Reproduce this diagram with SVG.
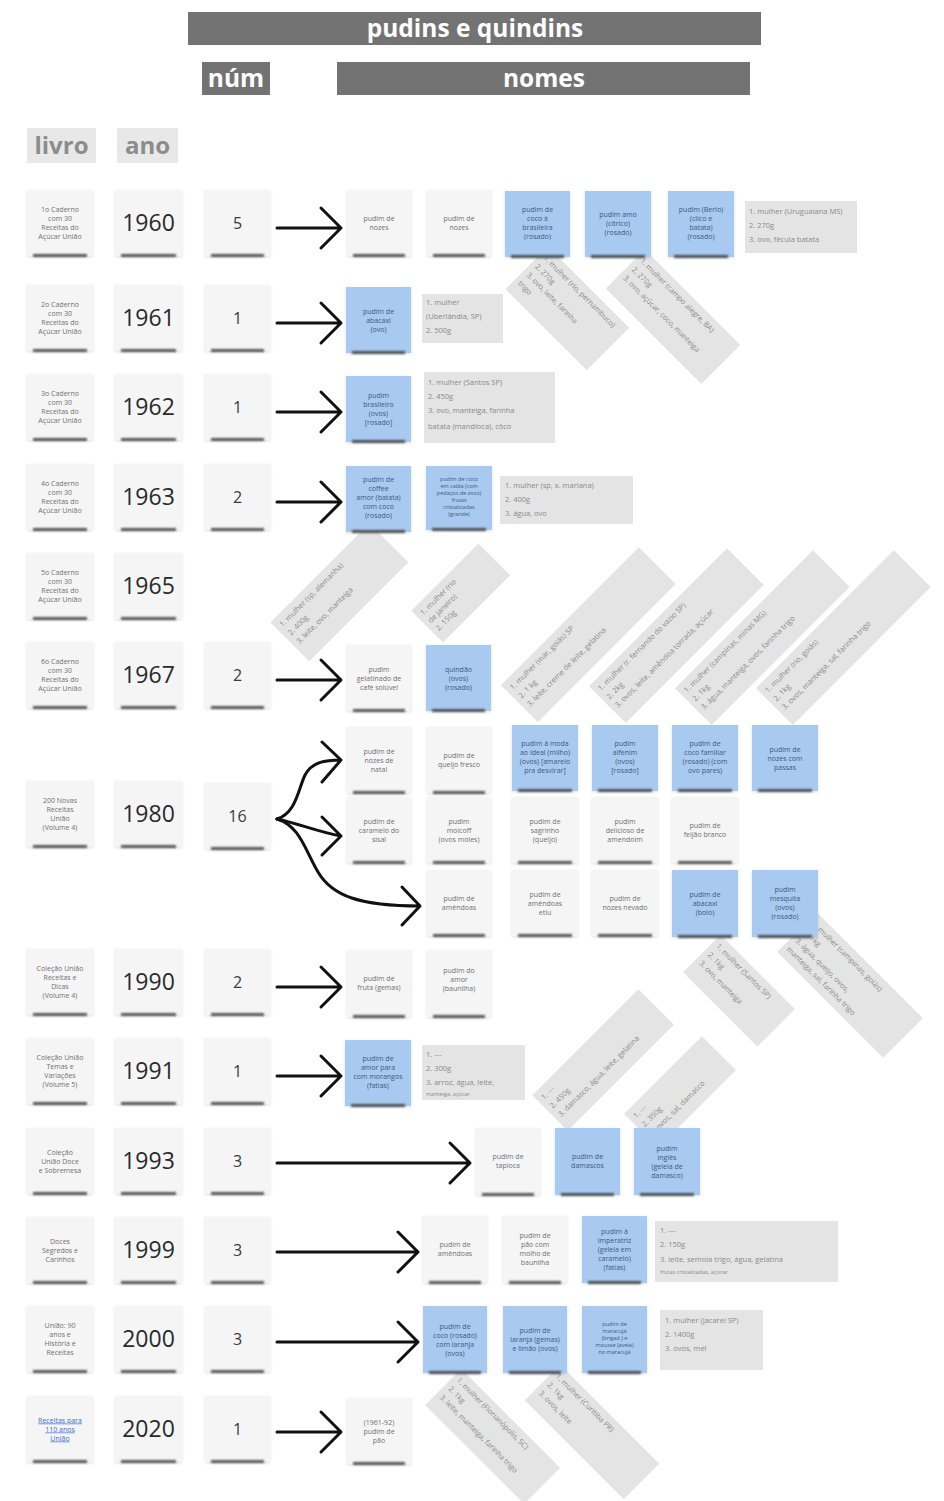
<svg xmlns="http://www.w3.org/2000/svg" width="944" height="1501" viewBox="0 0 944 1501">
<defs>
<filter id="blur" x="-20%" y="-300%" width="140%" height="700%"><feGaussianBlur stdDeviation="1.3"/></filter>
<filter id="ds" x="-20%" y="-20%" width="140%" height="140%"><feDropShadow dx="0" dy="1" stdDeviation="1.6" flood-color="#000" flood-opacity="0.13"/></filter>
<style>
text{font-family:"Open Sans","Noto Sans","Liberation Sans",sans-serif}
.n{fill:#f5f5f5;filter:url(#ds)}
.b{fill:#a8c9f0;filter:url(#ds)}
.g{fill:#e4e4e4}
.sh{fill:#3a3a3a;filter:url(#blur);opacity:.85}
.t{font-size:7px;fill:#707070;text-anchor:middle}
.tb{font-size:7px;fill:#3e5a80;text-anchor:middle}
.ts{font-size:5.5px;fill:#3e5a80;text-anchor:middle}
.gt{font-size:7.5px;fill:#8a8a8a}
.yr{font-size:23px;fill:#2a2a2a;text-anchor:middle}
.nm{font-size:16px;fill:#3a3a3a;text-anchor:middle}
.hd{font-size:24.5px;font-weight:bold;fill:#fff;text-anchor:middle}
.hl{font-size:24px;font-weight:bold;fill:#8c8c8c;text-anchor:middle}
.lk{font-size:7px;fill:#3a6fd8;text-anchor:middle;text-decoration:underline}
.ar{fill:none;stroke:#111;stroke-width:3;stroke-linecap:round;stroke-linejoin:round}
</style>
</defs>
<rect width="944" height="1501" fill="#fff"/>

<g id="header">
<rect x="188" y="12" width="573" height="33" fill="#737373"/>
<text class="hd" x="475" y="37">pudins e quindins</text>
<rect x="202" y="62" width="68" height="33" fill="#737373"/>
<text class="hd" x="236" y="87">núm</text>
<rect x="337" y="62" width="413" height="33" fill="#737373"/>
<text class="hd" x="544" y="87">nomes</text>
<rect x="27" y="128" width="69" height="35" fill="#e8e8e8"/>
<text class="hl" x="61.5" y="154">livro</text>
<rect x="117" y="128" width="61" height="35" fill="#e8e8e8"/>
<text class="hl" x="147.5" y="154">ano</text>
</g>

<g id="rotated-notes" class="gt">
<g id="rA" transform="translate(567,308) rotate(45)"><rect class="g" x="-57" y="-30" width="115" height="60"/><text x="-52" y="-18"><tspan x="-52">1. mulher (rio, pernambuco)</tspan><tspan x="-52" dy="12">2. 270g</tspan><tspan x="-52" dy="12">3. ovo, leite, farinha</tspan><tspan x="-52" dy="12">trigo</tspan></text></g>
<g id="rB" transform="translate(673,316) rotate(45)"><rect class="g" x="-67" y="-27" width="135" height="55"/><text x="-62" y="-15"><tspan x="-62">1. mulher (campo alegre, BA)</tspan><tspan x="-62" dy="12">2. 270g</tspan><tspan x="-62" dy="12">3. ovo, açúcar, coco, manteiga</tspan></text></g>
<g id="rC" transform="translate(339,592) rotate(-45)"><rect class="g" x="-70" y="-27" width="140" height="55"/><text x="-65" y="-15"><tspan x="-65">1. mulher (sp, alemanha)</tspan><tspan x="-65" dy="12">2. 400g</tspan><tspan x="-65" dy="12">3. leite, ovo, manteiga</tspan></text></g>
<g id="rD" transform="translate(460,593) rotate(-45)"><rect class="g" x="-47" y="-22" width="95" height="45"/><text x="-42" y="-10"><tspan x="-42">1. mulher (rio</tspan><tspan x="-42" dy="11">de janeiro)</tspan><tspan x="-42" dy="11">2. 150g</tspan></text></g>
<g id="rE" transform="translate(588,635) rotate(-45)"><rect class="g" x="-97" y="-26" width="195" height="52"/><text x="-92" y="-14"><tspan x="-92">1. mulher (mar, goiás) SP</tspan><tspan x="-92" dy="12">2. 1 kg</tspan><tspan x="-92" dy="12">3. leite, creme de leite, gelatina</tspan></text></g>
<g id="rF" transform="translate(676,636) rotate(-45)"><rect class="g" x="-97" y="-26" width="195" height="52"/><text x="-92" y="-14"><tspan x="-92">1. mulher (r. fernando do vazio SP)</tspan><tspan x="-92" dy="12">2. 2kg</tspan><tspan x="-92" dy="12">3. ovos, leite, amêndoa torrada, açúcar</tspan></text></g>
<g id="rG" transform="translate(762,638) rotate(-45)"><rect class="g" x="-97" y="-26" width="195" height="52"/><text x="-92" y="-14"><tspan x="-92">1. mulher (campinas, minas MG)</tspan><tspan x="-92" dy="12">2. 1kg</tspan><tspan x="-92" dy="12">3. água, manteiga, ovos, farinha trigo</tspan></text></g>
<g id="rH" transform="translate(843,638) rotate(-45)"><rect class="g" x="-97" y="-26" width="195" height="52"/><text x="-92" y="-14"><tspan x="-92">1. mulher (rio, goiás)</tspan><tspan x="-92" dy="12">2. 1kg</tspan><tspan x="-92" dy="12">3. ovos, manteiga, sal, farinha trigo</tspan></text></g>
<g id="rI" transform="translate(739,990) rotate(45)"><rect class="g" x="-52" y="-26" width="105" height="53"/><text x="-47" y="-14"><tspan x="-47">1. mulher (Santos SP)</tspan><tspan x="-47" dy="12">2. 1kg</tspan><tspan x="-47" dy="12">3. ovo, manteiga</tspan></text></g>
<g id="rJ" transform="translate(850,985) rotate(45)"><rect class="g" x="-75" y="-28" width="150" height="56"/><text x="-70" y="-16"><tspan x="-70">1. mulher (campinas, goiás)</tspan><tspan x="-70" dy="12">2. 1kg</tspan><tspan x="-70" dy="12">3. água, queijo, ovos,</tspan><tspan x="-70" dy="12">manteiga, sal, farinha trigo</tspan></text></g>
<g id="rK" transform="translate(603,1060) rotate(-45)"><rect class="g" x="-75" y="-25" width="150" height="50"/><text x="-70" y="-13"><tspan x="-70">1. ---</tspan><tspan x="-70" dy="12">2. 450g</tspan><tspan x="-70" dy="12">3. damasco, água, leite, gelatina</tspan></text></g>
<g id="rL" transform="translate(680,1092) rotate(-45)"><rect class="g" x="-55" y="-24" width="110" height="48"/><text x="-50" y="-12"><tspan x="-50">1. ---</tspan><tspan x="-50" dy="12">2. 350g</tspan><tspan x="-50" dy="12">3. ovos, sal, damasco</tspan></text></g>
<g id="rM" transform="translate(493,1436) rotate(45)"><rect class="g" x="-70" y="-25" width="140" height="51"/><text x="-65" y="-13"><tspan x="-65">1. mulher (Florianópolis, SC)</tspan><tspan x="-65" dy="12">2. 1kg</tspan><tspan x="-65" dy="12">3. leite, manteiga, farinha trigo</tspan></text></g>
<g id="rN" transform="translate(592,1432) rotate(45)"><rect class="g" x="-70" y="-25" width="140" height="50"/><text x="-65" y="-13"><tspan x="-65">1. mulher (Curitiba PR)</tspan><tspan x="-65" dy="12">2. 1kg</tspan><tspan x="-65" dy="12">3. ovos, leite</tspan></text></g>
</g>

<g id="connectors">
<path class="ar" d="M277,228 H341 M321,208 L341,228 L321,248"/>
<path class="ar" d="M277,323 H341 M321,303 L341,323 L321,343"/>
<path class="ar" d="M277,412 H341 M321,392 L341,412 L321,432"/>
<path class="ar" d="M277,502 H341 M321,482 L341,502 L321,522"/>
<path class="ar" d="M277,680 H341 M321,660 L341,680 L321,700"/>
<path class="ar" d="M277,819 C296,813 298,790 305,775 C312,762 325,760 341,760 M322,742 L341,760 L322,782"/>
<path class="ar" d="M277,819 C300,824 318,832 341,836 M322,817 L341,836 L322,855"/>
<path class="ar" d="M277,819 C300,826 305,850 318,872 C332,896 360,906 420,906 M402,887 L420,906 L402,925"/>
<path class="ar" d="M277,987 H341 M321,967 L341,987 L321,1007"/>
<path class="ar" d="M277,1076 H341 M321,1056 L341,1076 L321,1096"/>
<path class="ar" d="M277,1163 H470 M450,1143 L470,1163 L450,1183"/>
<path class="ar" d="M277,1252 H418 M398,1232 L418,1252 L398,1272"/>
<path class="ar" d="M277,1342 H418 M398,1322 L418,1342 L398,1362"/>
<path class="ar" d="M277,1432 H341 M321,1412 L341,1432 L321,1452"/>
</g>

<!-- Row 1960 -->
<g id="l1960"><rect class="n" x="27" y="190" width="66" height="66"/><rect class="sh" x="33" y="254" width="54" height="3"/><text class="t" y="212"><tspan x="60">1o Caderno</tspan><tspan x="60" dy="9">com 30</tspan><tspan x="60" dy="9">Receitas do</tspan><tspan x="60" dy="9">Açúcar União</tspan></text></g>
<g id="y1960"><rect class="n" x="115" y="190" width="67" height="66"/><rect class="sh" x="121" y="254" width="55" height="3"/><text class="yr" x="148.5" y="231">1960</text></g>
<g id="c1960"><rect class="n" x="205" y="190" width="65" height="66"/><rect class="sh" x="211" y="254" width="53" height="3"/><text class="nm" x="237.5" y="229">5</text></g>
<g id="n1960a"><rect class="n" x="347" y="190" width="64" height="66"/><rect class="sh" x="353" y="254" width="52" height="3"/><text class="t" y="221"><tspan x="379">pudim de</tspan><tspan x="379" dy="9">nozes</tspan></text></g>
<g id="n1960b"><rect class="n" x="427" y="190" width="64" height="66"/><rect class="sh" x="433" y="254" width="52" height="3"/><text class="t" y="221"><tspan x="459">pudim de</tspan><tspan x="459" dy="9">nozes</tspan></text></g>
<g id="n1960c"><rect class="b" x="505" y="191" width="65" height="66"/><rect class="sh" x="511" y="255" width="53" height="3"/><text class="tb" y="212"><tspan x="537.5">pudim de</tspan><tspan x="537.5" dy="9">coco à</tspan><tspan x="537.5" dy="9">brasileira</tspan><tspan x="537.5" dy="9">(rosado)</tspan></text></g>
<g id="n1960d"><rect class="b" x="585" y="191" width="66" height="66"/><rect class="sh" x="591" y="255" width="54" height="3"/><text class="tb" y="216.5"><tspan x="618">pudim amo</tspan><tspan x="618" dy="9">(cítrico)</tspan><tspan x="618" dy="9">(rosado)</tspan></text></g>
<g id="n1960e"><rect class="b" x="668" y="191" width="66" height="66"/><rect class="sh" x="674" y="255" width="54" height="3"/><text class="tb" y="212"><tspan x="701">pudim (Berlo)</tspan><tspan x="701" dy="9">(clico e</tspan><tspan x="701" dy="9">batata)</tspan><tspan x="701" dy="9">(rosado)</tspan></text></g>
<g id="i1960"><rect class="g" x="745" y="201" width="112" height="52"/><text class="gt" y="214"><tspan x="749">1. mulher (Uruguaiana MS)</tspan><tspan x="749" dy="14">2. 270g</tspan><tspan x="749" dy="14">3. ovo, fécula batata</tspan></text></g>

<!-- Row 1961 -->
<g id="l1961"><rect class="n" x="27" y="285" width="66" height="66"/><rect class="sh" x="33" y="349" width="54" height="3"/><text class="t" y="307"><tspan x="60">2o Caderno</tspan><tspan x="60" dy="9">com 30</tspan><tspan x="60" dy="9">Receitas do</tspan><tspan x="60" dy="9">Açúcar União</tspan></text></g>
<g id="y1961"><rect class="n" x="115" y="285" width="67" height="66"/><rect class="sh" x="121" y="349" width="55" height="3"/><text class="yr" x="148.5" y="326">1961</text></g>
<g id="c1961"><rect class="n" x="205" y="285" width="65" height="66"/><rect class="sh" x="211" y="349" width="53" height="3"/><text class="nm" x="237.5" y="324">1</text></g>
<g id="n1961a"><rect class="b" x="346" y="287" width="65" height="66"/><rect class="sh" x="352" y="351" width="53" height="3"/><text class="tb" y="313.5"><tspan x="378.5">pudim de</tspan><tspan x="378.5" dy="9">abacaxi</tspan><tspan x="378.5" dy="9">(ovo)</tspan></text></g>
<g id="i1961"><rect class="g" x="422" y="294" width="81" height="49"/><text class="gt" y="305"><tspan x="426">1. mulher</tspan><tspan x="426" dy="14">(Uberlândia, SP)</tspan><tspan x="426" dy="14">2. 500g</tspan></text></g>

<!-- Row 1962 -->
<g id="l1962"><rect class="n" x="27" y="374" width="66" height="66"/><rect class="sh" x="33" y="438" width="54" height="3"/><text class="t" y="396"><tspan x="60">3o Caderno</tspan><tspan x="60" dy="9">com 30</tspan><tspan x="60" dy="9">Receitas do</tspan><tspan x="60" dy="9">Açúcar União</tspan></text></g>
<g id="y1962"><rect class="n" x="115" y="374" width="67" height="66"/><rect class="sh" x="121" y="438" width="55" height="3"/><text class="yr" x="148.5" y="415">1962</text></g>
<g id="c1962"><rect class="n" x="205" y="374" width="65" height="66"/><rect class="sh" x="211" y="438" width="53" height="3"/><text class="nm" x="237.5" y="413">1</text></g>
<g id="n1962a"><rect class="b" x="346" y="376" width="65" height="66"/><rect class="sh" x="352" y="440" width="53" height="3"/><text class="tb" y="398"><tspan x="378.5">pudim</tspan><tspan x="378.5" dy="9">brasileiro</tspan><tspan x="378.5" dy="9">(ovos)</tspan><tspan x="378.5" dy="9">[rosado]</tspan></text></g>
<g id="i1962"><rect class="g" x="424" y="372" width="131" height="71"/><text class="gt" y="385"><tspan x="428">1. mulher (Santos SP)</tspan><tspan x="428" dy="14">2. 450g</tspan><tspan x="428" dy="14">3. ovo, manteiga, farinha</tspan><tspan x="428" dy="16">batata (mandioca), côco</tspan></text></g>

<!-- Row 1963 -->
<g id="l1963"><rect class="n" x="27" y="464" width="66" height="66"/><rect class="sh" x="33" y="528" width="54" height="3"/><text class="t" y="486"><tspan x="60">4o Caderno</tspan><tspan x="60" dy="9">com 30</tspan><tspan x="60" dy="9">Receitas do</tspan><tspan x="60" dy="9">Açúcar União</tspan></text></g>
<g id="y1963"><rect class="n" x="115" y="464" width="67" height="66"/><rect class="sh" x="121" y="528" width="55" height="3"/><text class="yr" x="148.5" y="505">1963</text></g>
<g id="c1963"><rect class="n" x="205" y="464" width="65" height="66"/><rect class="sh" x="211" y="528" width="53" height="3"/><text class="nm" x="237.5" y="503">2</text></g>
<g id="n1963a"><rect class="b" x="346" y="466" width="65" height="66"/><rect class="sh" x="352" y="530" width="53" height="3"/><text class="tb" y="481.5"><tspan x="378.5">pudim de</tspan><tspan x="378.5" dy="9">coffee</tspan><tspan x="378.5" dy="9">amor (batata)</tspan><tspan x="378.5" dy="9">com coco</tspan><tspan x="378.5" dy="9">(rosado)</tspan></text></g>
<g id="n1963b"><rect class="b" x="426" y="466" width="66" height="64"/><rect class="sh" x="432" y="528" width="54" height="3"/><text class="ts" y="481"><tspan x="459">pudim de coco</tspan><tspan x="459" dy="7">em calda (com</tspan><tspan x="459" dy="7">pedaços de ovos)</tspan><tspan x="459" dy="7">frutas</tspan><tspan x="459" dy="7">cristalizadas</tspan><tspan x="459" dy="7">(grande)</tspan></text></g>
<g id="i1963"><rect class="g" x="500" y="476" width="133" height="48"/><text class="gt" y="488"><tspan x="505">1. mulher (sp, x. mariana)</tspan><tspan x="505" dy="14">2. 400g</tspan><tspan x="505" dy="14">3. água, ovo</tspan></text></g>

<!-- Row 1965 -->
<g id="l1965"><rect class="n" x="27" y="553" width="66" height="66"/><rect class="sh" x="33" y="617" width="54" height="3"/><text class="t" y="575"><tspan x="60">5o Caderno</tspan><tspan x="60" dy="9">com 30</tspan><tspan x="60" dy="9">Receitas do</tspan><tspan x="60" dy="9">Açúcar União</tspan></text></g>
<g id="y1965"><rect class="n" x="115" y="553" width="67" height="66"/><rect class="sh" x="121" y="617" width="55" height="3"/><text class="yr" x="148.5" y="594">1965</text></g>

<!-- Row 1967 -->
<g id="l1967"><rect class="n" x="27" y="642" width="66" height="66"/><rect class="sh" x="33" y="706" width="54" height="3"/><text class="t" y="664"><tspan x="60">6o Caderno</tspan><tspan x="60" dy="9">com 30</tspan><tspan x="60" dy="9">Receitas do</tspan><tspan x="60" dy="9">Açúcar União</tspan></text></g>
<g id="y1967"><rect class="n" x="115" y="642" width="67" height="66"/><rect class="sh" x="121" y="706" width="55" height="3"/><text class="yr" x="148.5" y="683">1967</text></g>
<g id="c1967"><rect class="n" x="205" y="642" width="65" height="66"/><rect class="sh" x="211" y="706" width="53" height="3"/><text class="nm" x="237.5" y="681">2</text></g>
<g id="n1967a"><rect class="n" x="347" y="645" width="64" height="66"/><rect class="sh" x="353" y="709" width="52" height="3"/><text class="t" y="671.5"><tspan x="379">pudim</tspan><tspan x="379" dy="9">gelatinado de</tspan><tspan x="379" dy="9">café solúvel</tspan></text></g>
<g id="n1967b"><rect class="b" x="426" y="645" width="65" height="66"/><rect class="sh" x="432" y="709" width="53" height="3"/><text class="tb" y="671.5"><tspan x="458.5">quindão</tspan><tspan x="458.5" dy="9">(ovos)</tspan><tspan x="458.5" dy="9">(rosado)</tspan></text></g>

<!-- Row 1980 -->
<g id="l1980"><rect class="n" x="27" y="781" width="66" height="66"/><rect class="sh" x="33" y="845" width="54" height="3"/><text class="t" y="803"><tspan x="60">200 Novas</tspan><tspan x="60" dy="9">Receitas</tspan><tspan x="60" dy="9">União</tspan><tspan x="60" dy="9">(Volume 4)</tspan></text></g>
<g id="y1980"><rect class="n" x="115" y="781" width="67" height="66"/><rect class="sh" x="121" y="845" width="55" height="3"/><text class="yr" x="148.5" y="822">1980</text></g>
<g id="c1980"><rect class="n" x="205" y="783" width="65" height="66"/><rect class="sh" x="211" y="847" width="53" height="3"/><text class="nm" x="237.5" y="822">16</text></g>
<g id="n1980a1"><rect class="n" x="347" y="727" width="64" height="66"/><rect class="sh" x="353" y="791" width="52" height="3"/><text class="t" y="753.5"><tspan x="379">pudim de</tspan><tspan x="379" dy="9">nozes de</tspan><tspan x="379" dy="9">natal</tspan></text></g>
<g id="n1980a2"><rect class="n" x="427" y="727" width="64" height="66"/><rect class="sh" x="433" y="791" width="52" height="3"/><text class="t" y="758"><tspan x="459">pudim de</tspan><tspan x="459" dy="9">queijo fresco</tspan></text></g>
<g id="n1980a3"><rect class="b" x="512" y="725" width="66" height="66"/><rect class="sh" x="518" y="789" width="54" height="3"/><text class="tb" y="746"><tspan x="545">pudim à moda</tspan><tspan x="545" dy="9">ao ideal (milho)</tspan><tspan x="545" dy="9">(ovos) [amarelo</tspan><tspan x="545" dy="9">pra desvirar]</tspan></text></g>
<g id="n1980a4"><rect class="b" x="592" y="725" width="66" height="66"/><rect class="sh" x="598" y="789" width="54" height="3"/><text class="tb" y="746"><tspan x="625">pudim</tspan><tspan x="625" dy="9">alfenim</tspan><tspan x="625" dy="9">(ovos)</tspan><tspan x="625" dy="9">[rosado]</tspan></text></g>
<g id="n1980a5"><rect class="b" x="672" y="725" width="66" height="66"/><rect class="sh" x="678" y="789" width="54" height="3"/><text class="tb" y="746"><tspan x="705">pudim de</tspan><tspan x="705" dy="9">coco familiar</tspan><tspan x="705" dy="9">(rosado) (com</tspan><tspan x="705" dy="9">ovo pares)</tspan></text></g>
<g id="n1980a6"><rect class="b" x="752" y="725" width="66" height="66"/><rect class="sh" x="758" y="789" width="54" height="3"/><text class="tb" y="751.5"><tspan x="785">pudim de</tspan><tspan x="785" dy="9">nozes com</tspan><tspan x="785" dy="9">passas</tspan></text></g>
<g id="n1980b1"><rect class="n" x="347" y="797" width="64" height="66"/><rect class="sh" x="353" y="861" width="52" height="3"/><text class="t" y="823.5"><tspan x="379">pudim de</tspan><tspan x="379" dy="9">caramelo do</tspan><tspan x="379" dy="9">sisal</tspan></text></g>
<g id="n1980b2"><rect class="n" x="427" y="797" width="64" height="66"/><rect class="sh" x="433" y="861" width="52" height="3"/><text class="t" y="823.5"><tspan x="459">pudim</tspan><tspan x="459" dy="9">moicoff</tspan><tspan x="459" dy="9">(ovos moles)</tspan></text></g>
<g id="n1980b3"><rect class="n" x="512" y="797" width="66" height="66"/><rect class="sh" x="518" y="861" width="54" height="3"/><text class="t" y="823.5"><tspan x="545">pudim de</tspan><tspan x="545" dy="9">sagrinho</tspan><tspan x="545" dy="9">(queijo)</tspan></text></g>
<g id="n1980b4"><rect class="n" x="592" y="797" width="66" height="66"/><rect class="sh" x="598" y="861" width="54" height="3"/><text class="t" y="823.5"><tspan x="625">pudim</tspan><tspan x="625" dy="9">delicioso de</tspan><tspan x="625" dy="9">amendoim</tspan></text></g>
<g id="n1980b5"><rect class="n" x="672" y="797" width="66" height="66"/><rect class="sh" x="678" y="861" width="54" height="3"/><text class="t" y="828"><tspan x="705">pudim de</tspan><tspan x="705" dy="9">feijão branco</tspan></text></g>
<g id="n1980c1"><rect class="n" x="427" y="870" width="64" height="66"/><rect class="sh" x="433" y="934" width="52" height="3"/><text class="t" y="901"><tspan x="459">pudim de</tspan><tspan x="459" dy="9">amêndoas</tspan></text></g>
<g id="n1980c2"><rect class="n" x="512" y="870" width="66" height="66"/><rect class="sh" x="518" y="934" width="54" height="3"/><text class="t" y="896.5"><tspan x="545">pudim de</tspan><tspan x="545" dy="9">amêndoas</tspan><tspan x="545" dy="9">etiu</tspan></text></g>
<g id="n1980c3"><rect class="n" x="592" y="870" width="66" height="66"/><rect class="sh" x="598" y="934" width="54" height="3"/><text class="t" y="901"><tspan x="625">pudim de</tspan><tspan x="625" dy="9">nozes nevado</tspan></text></g>
<g id="n1980c4"><rect class="b" x="672" y="870" width="66" height="67"/><rect class="sh" x="678" y="935" width="54" height="3"/><text class="tb" y="896.5"><tspan x="705">pudim de</tspan><tspan x="705" dy="9">abacaxi</tspan><tspan x="705" dy="9">(bolo)</tspan></text></g>
<g id="n1980c5"><rect class="b" x="752" y="870" width="66" height="67"/><rect class="sh" x="758" y="935" width="54" height="3"/><text class="tb" y="892"><tspan x="785">pudim</tspan><tspan x="785" dy="9">mesquita</tspan><tspan x="785" dy="9">(ovos)</tspan><tspan x="785" dy="9">(rosado)</tspan></text></g>

<!-- Row 1990 -->
<g id="l1990"><rect class="n" x="27" y="949" width="66" height="66"/><rect class="sh" x="33" y="1013" width="54" height="3"/><text class="t" y="971"><tspan x="60">Coleção União</tspan><tspan x="60" dy="9">Receitas e</tspan><tspan x="60" dy="9">Dicas</tspan><tspan x="60" dy="9">(Volume 4)</tspan></text></g>
<g id="y1990"><rect class="n" x="115" y="949" width="67" height="66"/><rect class="sh" x="121" y="1013" width="55" height="3"/><text class="yr" x="148.5" y="990">1990</text></g>
<g id="c1990"><rect class="n" x="205" y="949" width="65" height="66"/><rect class="sh" x="211" y="1013" width="53" height="3"/><text class="nm" x="237.5" y="988">2</text></g>
<g id="n1990a"><rect class="n" x="347" y="950" width="64" height="67"/><rect class="sh" x="353" y="1015" width="52" height="3"/><text class="t" y="981"><tspan x="379">pudim de</tspan><tspan x="379" dy="9">fruta (gemas)</tspan></text></g>
<g id="n1990b"><rect class="n" x="427" y="950" width="64" height="67"/><rect class="sh" x="433" y="1015" width="52" height="3"/><text class="t" y="973"><tspan x="459">pudim do</tspan><tspan x="459" dy="9">amor</tspan><tspan x="459" dy="9">(baunilha)</tspan></text></g>

<!-- Row 1991 -->
<g id="l1991"><rect class="n" x="27" y="1038" width="66" height="66"/><rect class="sh" x="33" y="1102" width="54" height="3"/><text class="t" y="1060"><tspan x="60">Coleção União</tspan><tspan x="60" dy="9">Temas e</tspan><tspan x="60" dy="9">Variações</tspan><tspan x="60" dy="9">(Volume 5)</tspan></text></g>
<g id="y1991"><rect class="n" x="115" y="1038" width="67" height="66"/><rect class="sh" x="121" y="1102" width="55" height="3"/><text class="yr" x="148.5" y="1079">1991</text></g>
<g id="c1991"><rect class="n" x="205" y="1038" width="65" height="66"/><rect class="sh" x="211" y="1102" width="53" height="3"/><text class="nm" x="237.5" y="1077">1</text></g>
<g id="n1991a"><rect class="b" x="345" y="1040" width="66" height="66"/><rect class="sh" x="351" y="1104" width="54" height="3"/><text class="tb" y="1061"><tspan x="378">pudim de</tspan><tspan x="378" dy="9">amor para</tspan><tspan x="378" dy="9">com morangos</tspan><tspan x="378" dy="9">(fatias)</tspan></text></g>
<g id="i1991"><rect class="g" x="422" y="1045" width="103" height="55"/><text class="gt" y="1057"><tspan x="426">1. ---</tspan><tspan x="426" dy="14">2. 300g</tspan><tspan x="426" dy="14">3. arroz, água, leite,</tspan><tspan x="426" dy="11" font-size="5.5">manteiga, açúcar</tspan></text></g>

<!-- Row 1993 -->
<g id="l1993"><rect class="n" x="27" y="1128" width="66" height="66"/><rect class="sh" x="33" y="1192" width="54" height="3"/><text class="t" y="1154.5"><tspan x="60">Coleção</tspan><tspan x="60" dy="9">União Doce</tspan><tspan x="60" dy="9">e Sobremesa</tspan></text></g>
<g id="y1993"><rect class="n" x="115" y="1128" width="67" height="66"/><rect class="sh" x="121" y="1192" width="55" height="3"/><text class="yr" x="148.5" y="1169">1993</text></g>
<g id="c1993"><rect class="n" x="205" y="1128" width="65" height="66"/><rect class="sh" x="211" y="1192" width="53" height="3"/><text class="nm" x="237.5" y="1167">3</text></g>
<g id="n1993a"><rect class="n" x="476" y="1128" width="64" height="67"/><rect class="sh" x="482" y="1193" width="52" height="3"/><text class="t" y="1159"><tspan x="508">pudim de</tspan><tspan x="508" dy="9">tapioca</tspan></text></g>
<g id="n1993b"><rect class="b" x="555" y="1128" width="65" height="67"/><rect class="sh" x="561" y="1193" width="53" height="3"/><text class="tb" y="1159"><tspan x="587.5">pudim de</tspan><tspan x="587.5" dy="9">damascos</tspan></text></g>
<g id="n1993c"><rect class="b" x="634" y="1128" width="66" height="67"/><rect class="sh" x="640" y="1193" width="54" height="3"/><text class="tb" y="1150.5"><tspan x="667">pudim</tspan><tspan x="667" dy="9">inglês</tspan><tspan x="667" dy="9">(geleia de</tspan><tspan x="667" dy="9">damasco)</tspan></text></g>

<!-- Row 1999 -->
<g id="l1999"><rect class="n" x="27" y="1217" width="66" height="66"/><rect class="sh" x="33" y="1281" width="54" height="3"/><text class="t" y="1243.5"><tspan x="60">Doces</tspan><tspan x="60" dy="9">Segredos e</tspan><tspan x="60" dy="9">Carinhos</tspan></text></g>
<g id="y1999"><rect class="n" x="115" y="1217" width="67" height="66"/><rect class="sh" x="121" y="1281" width="55" height="3"/><text class="yr" x="148.5" y="1258">1999</text></g>
<g id="c1999"><rect class="n" x="205" y="1217" width="65" height="66"/><rect class="sh" x="211" y="1281" width="53" height="3"/><text class="nm" x="237.5" y="1256">3</text></g>
<g id="n1999a"><rect class="n" x="423" y="1216" width="64" height="67"/><rect class="sh" x="429" y="1281" width="52" height="3"/><text class="t" y="1247"><tspan x="455">pudim de</tspan><tspan x="455" dy="9">amêndoas</tspan></text></g>
<g id="n1999b"><rect class="n" x="503" y="1216" width="64" height="67"/><rect class="sh" x="509" y="1281" width="52" height="3"/><text class="t" y="1238"><tspan x="535">pudim de</tspan><tspan x="535" dy="9">pão com</tspan><tspan x="535" dy="9">molho de</tspan><tspan x="535" dy="9">baunilha</tspan></text></g>
<g id="n1999c"><rect class="b" x="582" y="1216" width="65" height="67"/><rect class="sh" x="588" y="1281" width="53" height="3"/><text class="tb" y="1233.5"><tspan x="614.5">pudim à</tspan><tspan x="614.5" dy="9">imperatriz</tspan><tspan x="614.5" dy="9">(geleia em</tspan><tspan x="614.5" dy="9">caramelo)</tspan><tspan x="614.5" dy="9">(fatias)</tspan></text></g>
<g id="i1999"><rect class="g" x="655" y="1221" width="183" height="61"/><text class="gt" y="1233"><tspan x="660">1. ---</tspan><tspan x="660" dy="14">2. 150g</tspan><tspan x="660" dy="15">3. leite, semola trigo, água, gelatina</tspan><tspan x="660" dy="12" font-size="5.5">frutas cristalizadas, açúcar</tspan></text></g>

<!-- Row 2000 -->
<g id="l2000"><rect class="n" x="27" y="1306" width="66" height="66"/><rect class="sh" x="33" y="1370" width="54" height="3"/><text class="t" y="1328"><tspan x="60">União: 90</tspan><tspan x="60" dy="9">anos e</tspan><tspan x="60" dy="9">História e</tspan><tspan x="60" dy="9">Receitas</tspan></text></g>
<g id="y2000"><rect class="n" x="115" y="1306" width="67" height="66"/><rect class="sh" x="121" y="1370" width="55" height="3"/><text class="yr" x="148.5" y="1347">2000</text></g>
<g id="c2000"><rect class="n" x="205" y="1306" width="65" height="66"/><rect class="sh" x="211" y="1370" width="53" height="3"/><text class="nm" x="237.5" y="1345">3</text></g>
<g id="n2000a"><rect class="b" x="423" y="1306" width="64" height="67"/><rect class="sh" x="429" y="1371" width="52" height="3"/><text class="tb" y="1328.5"><tspan x="455">pudim de</tspan><tspan x="455" dy="9">coco (rosado)</tspan><tspan x="455" dy="9">com laranja</tspan><tspan x="455" dy="9">(ovos)</tspan></text></g>
<g id="n2000b"><rect class="b" x="503" y="1306" width="64" height="67"/><rect class="sh" x="509" y="1371" width="52" height="3"/><text class="tb" y="1333"><tspan x="535">pudim de</tspan><tspan x="535" dy="9">laranja (gemas)</tspan><tspan x="535" dy="9">e limão (ovos)</tspan></text></g>
<g id="n2000c"><rect class="b" x="582" y="1306" width="65" height="67"/><rect class="sh" x="588" y="1371" width="53" height="3"/><text class="ts" y="1326"><tspan x="614.5">pudim de</tspan><tspan x="614.5" dy="7">maracujá</tspan><tspan x="614.5" dy="7">(brigad.) e</tspan><tspan x="614.5" dy="7">mousse (aveia)</tspan><tspan x="614.5" dy="7">no maracujá</tspan></text></g>
<g id="i2000"><rect class="g" x="660" y="1310" width="103" height="60"/><text class="gt" y="1323"><tspan x="665">1. mulher (Jacareí SP)</tspan><tspan x="665" dy="14">2. 1400g</tspan><tspan x="665" dy="14">3. ovos, mel</tspan></text></g>

<!-- Row 2020 -->
<g id="l2020"><rect class="n" x="27" y="1396" width="66" height="66"/><rect class="sh" x="33" y="1460" width="54" height="3"/><text class="lk" y="1422.5"><tspan x="60">Receitas para</tspan><tspan x="60" dy="9">110 anos</tspan><tspan x="60" dy="9">União</tspan></text></g>
<g id="y2020"><rect class="n" x="115" y="1396" width="67" height="66"/><rect class="sh" x="121" y="1460" width="55" height="3"/><text class="yr" x="148.5" y="1437">2020</text></g>
<g id="c2020"><rect class="n" x="205" y="1396" width="65" height="66"/><rect class="sh" x="211" y="1460" width="53" height="3"/><text class="nm" x="237.5" y="1435">1</text></g>
<g id="n2020a"><rect class="n" x="347" y="1398" width="64" height="66"/><rect class="sh" x="353" y="1462" width="52" height="3"/><text class="t" y="1424.5"><tspan x="379">(1961-92)</tspan><tspan x="379" dy="9">pudim de</tspan><tspan x="379" dy="9">pão</tspan></text></g>
</svg>
